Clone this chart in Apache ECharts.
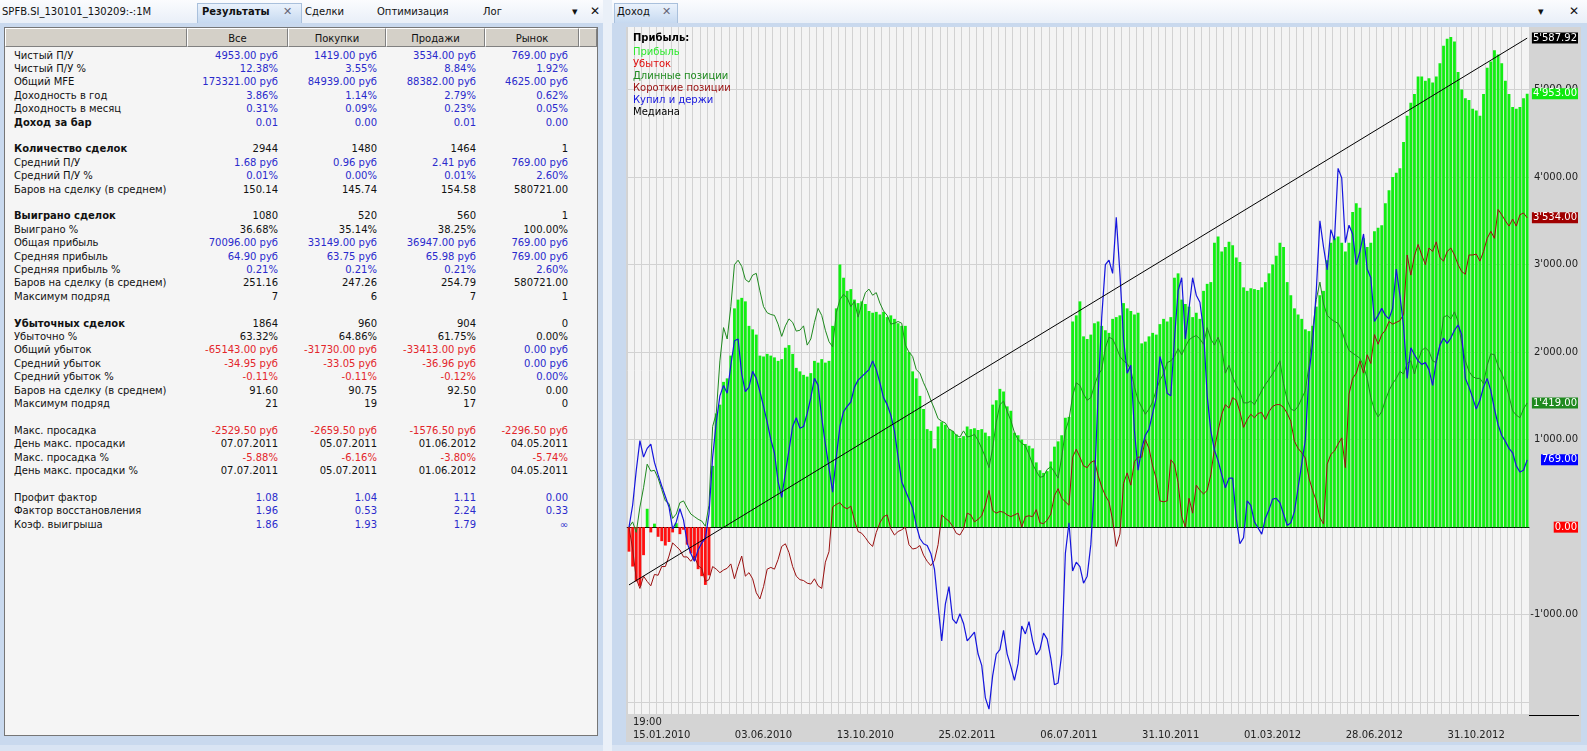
<!DOCTYPE html>
<html>
<head>
<meta charset="utf-8">
<script src="https://cdn.jsdelivr.net/npm/echarts@6.0.0/dist/echarts.min.js"></script>
<style>
  html,body{margin:0;padding:0;}
  body{width:1587px;height:751px;position:relative;overflow:hidden;background:#d9e4f3;font-family:"DejaVu Sans",sans-serif;font-size:10px;color:#111;}
  .abs{position:absolute;white-space:nowrap;}
  .bar{background:linear-gradient(#fbfcfe,#e9eff8);}
  .tab{background:linear-gradient(#eaf2fc,#c6d9f0);border:1px solid #a9c0dc;border-bottom:none;box-sizing:border-box;}
  .frame{background:#c9d9ee;}
  .hcell{position:absolute;top:28px;height:19px;line-height:19px;text-align:center;background:#d4d0c8;box-sizing:border-box;border-right:1px solid #808080;border-bottom:1px solid #808080;border-left:1px solid #ffffff;border-top:1px solid #ffffff;}
  .row{position:absolute;height:13.4px;line-height:13.4px;white-space:nowrap;}
  .val{position:absolute;width:120px;text-align:right;height:13.4px;line-height:13.4px;white-space:nowrap;}
</style>
</head>
<body>
<!-- left panel chrome -->
<div class="abs bar" style="left:0;top:0;width:603px;height:23px;"></div>
<div class="abs" style="left:2px;top:6px;">SPFB.SI_130101_130209:-:1M</div>
<div class="abs tab" style="left:197px;top:3px;width:105px;height:20px;"></div>
<div class="abs" style="left:202px;top:6px;font-weight:bold;">Результаты</div>
<div class="abs" style="left:283px;top:5px;color:#667;font-size:11px;">✕</div>
<div class="abs" style="left:305px;top:6px;">Сделки</div>
<div class="abs" style="left:377px;top:6px;">Оптимизация</div>
<div class="abs" style="left:483px;top:6px;">Лог</div>
<div class="abs" style="left:572px;top:5px;font-size:11px;">▾</div>
<div class="abs" style="left:590px;top:4px;font-size:12px;">✕</div>
<div class="abs frame" style="left:0;top:23px;width:603px;height:722px;"></div>
<div class="abs" style="left:4px;top:27px;width:594px;height:709px;background:#f5f5f5;border:1px solid #767676;box-sizing:border-box;"></div>
<div id="table"></div>

<!-- separator -->
<div class="abs" style="left:603px;top:0;width:9px;height:751px;background:#eaf0f8;"></div>

<!-- right panel chrome -->
<div class="abs bar" style="left:612px;top:0;width:975px;height:23px;"></div>
<div class="abs tab" style="left:614px;top:3px;width:64px;height:20px;"></div>
<div class="abs" style="left:617px;top:6px;">Доход</div>
<div class="abs" style="left:662px;top:5px;color:#667;font-size:11px;">✕</div>
<div class="abs" style="left:1538px;top:5px;font-size:11px;">▾</div>
<div class="abs" style="left:1569px;top:4px;font-size:12px;">✕</div>
<div class="abs frame" style="left:612px;top:23px;width:975px;height:722px;"></div>
<div id="chart" class="abs" style="left:626px;top:27px;width:955px;height:715px;background:#d4d4d4;"></div>

<script>
// ---------------- table data ----------------
const rowLabels = ['Чистый П/У','Чистый П/У %','Общий MFE','Доходность в год','Доходность в месяц','Доход за бар','','Количество сделок','Средний П/У','Средний П/У %','Баров на сделку (в среднем)','','Выиграно сделок','Выиграно %','Общая прибыль','Средняя прибыль','Средняя прибыль %','Баров на сделку (в среднем)','Максимум подряд','','Убыточных сделок','Убыточно %','Общий убыток','Средний убыток','Средний убыток %','Баров на сделку (в среднем)','Максимум подряд','','Макс. просадка','День макс. просадки','Макс. просадка %','День макс. просадки %','','Профит фактор','Фактор восстановления','Коэф. выигрыша'];
const boldRows = [5, 7, 12, 20];
const colHeaders = ['Все', 'Покупки', 'Продажи', 'Рынок'];
const colAll = ['4953.00 руб','12.38%','173321.00 руб','3.86%','0.31%','0.01','','2944','1.68 руб','0.01%','150.14','','1080','36.68%','70096.00 руб','64.90 руб','0.21%','251.16','7','','1864','63.32%','-65143.00 руб','-34.95 руб','-0.11%','91.60','21','','-2529.50 руб','07.07.2011','-5.88%','07.07.2011','','1.08','1.96','1.86'];
const colBuy = ['1419.00 руб','3.55%','84939.00 руб','1.14%','0.09%','0.00','','1480','0.96 руб','0.00%','145.74','','520','35.14%','33149.00 руб','63.75 руб','0.21%','247.26','6','','960','64.86%','-31730.00 руб','-33.05 руб','-0.11%','90.75','19','','-2659.50 руб','05.07.2011','-6.16%','05.07.2011','','1.04','0.53','1.93'];
const colSell = ['3534.00 руб','8.84%','88382.00 руб','2.79%','0.23%','0.01','','1464','2.41 руб','0.01%','154.58','','560','38.25%','36947.00 руб','65.98 руб','0.21%','254.79','7','','904','61.75%','-33413.00 руб','-36.96 руб','-0.12%','92.50','17','','-1576.50 руб','01.06.2012','-3.80%','01.06.2012','','1.11','2.24','1.79'];
const colMarket = ['769.00 руб','1.92%','4625.00 руб','0.62%','0.05%','0.00','','1','769.00 руб','2.60%','580721.00','','1','100.00%','769.00 руб','769.00 руб','2.60%','580721.00','1','','0','0.00%','0.00 руб','0.00 руб','0.00%','0.00','0','','-2296.50 руб','04.05.2011','-5.74%','04.05.2011','','0.00','0.33','∞'];
const rowColors = ['bbbb','bbbb','bbbb','bbbb','bbbb','bbbb','','kkkk','bbbb','bbbb','kkkk','','kkkk','kkkk','bbbb','bbbb','bbbb','kkkk','kkkk','','kkkk','kkkk','rrrb','rrrb','rrrb','kkkk','kkkk','','rrrr','kkkk','rrrr','kkkk','','bbbb','bbbb','bbbb'];

(function buildTable(){
  const host = document.getElementById('table');
  const colorMap = {b:'#2a2acc', r:'#e3262b', k:'#111111'};
  const hdrEdges = [5, 187, 288, 386, 485, 579, 597];
  let html = '';
  for (let c = 0; c < hdrEdges.length - 1; c++) {
    const txt = (c >= 1 && c <= 4) ? colHeaders[c - 1] : '';
    html += `<div class="hcell" style="left:${hdrEdges[c]}px;width:${hdrEdges[c+1]-hdrEdges[c]}px;">${txt}</div>`;
  }
  const rights = [278, 377, 476, 568];
  const cols = [colAll, colBuy, colSell, colMarket];
  rowLabels.forEach((lab, r) => {
    const top = 48.6 + 13.4 * r;
    const bold = boldRows.includes(r) ? 'font-weight:bold;' : '';
    html += `<div class="row" style="left:14px;top:${top}px;${bold}">${lab}</div>`;
    cols.forEach((col, c) => {
      if (!col[r]) return;
      const clr = colorMap[rowColors[r][c]];
      html += `<div class="val" style="left:${rights[c]-120}px;top:${top}px;color:${clr};">${col[r]}</div>`;
    });
  });
  host.innerHTML = html;
})();

// ---------------- chart data ----------------
const tickDates = ['15.01.2010','03.06.2010','13.10.2010','25.02.2011','06.07.2011','31.10.2011','01.03.2012','28.06.2012','31.10.2012'];
const firstTime = '19:00';
const barsPerTick = 28;
const barCount = 248;

const profit = [
-280,-450,-620,-670,-320,210,-60,40,-110,-160,
-210,-170,-60,45,-80,-30,-200,-300,-380,-480,
-560,-660,-550,700,1300,1400,1660,1700,1960,2500,
2600,2620,2580,2300,2260,2200,1960,1950,1980,1960,
1940,1900,1920,2050,2080,1980,1820,1780,1740,1720,
1760,1900,1880,1920,1880,1900,2300,2500,3000,2850,
2700,2720,2600,2560,2580,2550,2470,2450,2460,2430,
2460,2400,2420,2380,2330,2300,2300,2000,1780,1700,
1500,1350,1120,1100,900,1150,1200,1170,1120,1100,
1060,1020,1040,1150,1120,1130,1110,1120,1080,1040,
1400,1450,1580,1550,1380,1330,1080,1050,1000,950,
930,900,740,650,620,640,750,920,980,1050,
1250,1260,2350,2420,2580,2180,2150,2200,2330,2350,
2300,2250,2220,2380,2400,2420,2560,2500,2470,2430,
2450,2100,2120,2180,2220,2200,2320,2380,2350,2400,
2850,2900,2600,2550,2520,2400,2450,2380,2700,2780,
2800,3250,3320,3150,3200,3260,3220,3080,3030,2740,
2700,2730,2720,2710,2740,2800,2900,3000,3100,3250,
3200,2800,2650,2500,2430,2380,2260,2240,2300,2520,
2650,2700,3050,3250,3300,3320,3250,3150,3250,3600,
3700,3650,3300,3200,3250,3380,3420,3450,3700,3850,
4000,4050,4100,4400,4700,4850,4950,5150,5150,5100,
5130,5080,5150,5300,5500,5580,5600,5550,5200,5000,
4900,4880,4780,4760,4700,4950,5250,5320,5450,5400,
5300,5100,4950,4800,4780,4800,4900,4953];

const longPos = [
0,60,-60,230,450,720,640,650,560,430,
300,270,100,150,280,300,220,150,120,90,
70,10,250,1150,1300,1900,2280,2150,2520,3000,
3050,2980,2830,2800,2880,2900,2700,2520,2450,2430,
2420,2320,2180,2300,2380,2340,2240,2250,2300,2080,
2150,2340,2500,2420,2250,2120,2060,2450,2600,2660,
2620,2520,2580,2400,2550,2680,2720,2650,2680,2560,
2470,2420,2320,2330,2350,2330,2080,2000,1950,1800,
1760,1650,1560,1450,1350,1240,1210,1190,1120,1100,
1050,1030,1100,1030,1040,1060,990,900,800,680,
900,1200,1400,1440,1320,1220,1080,1000,960,930,
830,720,640,570,580,660,690,630,560,800,
1100,1230,1500,1650,1620,1520,1450,1480,1620,1740,
1800,2050,2170,2150,2060,1950,1900,1870,1800,1600,
1450,1370,1290,1350,1430,1570,1680,1750,1880,1900,
1950,2040,1970,2060,2140,2170,2190,2150,2090,2280,
2150,2080,2170,2050,1760,1850,1720,1620,1550,1420,
1420,1440,1400,1480,1560,1630,1690,1750,1820,1900,
1640,1450,1350,1330,1380,1470,1560,1850,2250,2600,
2800,2550,2420,2380,2350,2330,2250,2120,2020,1990,
1960,1930,1840,1700,1480,1340,1260,1320,1450,1560,
1640,1700,1780,1750,1870,1900,1750,1900,2020,2050,
2010,1900,1880,2080,2400,2420,2380,2460,2350,2100,
1900,1780,1720,1700,1700,1640,1850,1980,1970,1840,
1760,1650,1500,1330,1280,1250,1350,1419];

const shortPos = [
0,-250,-590,-700,-560,-620,-670,-540,-550,-450,
-450,-330,-180,-220,-260,-340,-340,-390,-330,-440,
-470,-620,-600,-450,-480,-520,-490,-470,-420,-590,
-450,-330,-560,-520,-590,-750,-820,-680,-480,-460,
-480,-370,-220,-190,-290,-450,-560,-600,-610,-640,
-650,-590,-670,-700,-400,-280,230,260,280,230,
210,240,80,-50,-70,-120,-180,-220,-60,50,
120,140,-20,-90,-50,-30,0,-200,-250,-240,
-210,-320,-390,-440,-380,-200,140,100,70,10,
-70,-90,-20,160,140,60,90,130,250,420,
190,160,180,170,140,120,140,160,0,120,
130,120,200,50,40,80,150,360,440,330,
290,250,800,890,800,700,680,740,760,590,
460,360,290,80,-220,-80,500,620,480,750,
800,800,1000,900,700,550,300,290,300,770,
720,510,120,0,330,160,480,420,380,420,
600,900,1100,1290,1400,1360,1480,1450,1320,1140,
1230,1290,1250,1300,1310,1230,1320,1380,1400,1400,
1370,1300,1210,980,900,850,790,560,420,300,
110,35,720,830,870,950,1020,680,1520,1700,
1760,1900,1760,1970,1870,2200,2090,2200,2250,2350,
2320,2340,2360,2430,3110,2880,3100,3230,3110,3000,
3190,3150,3260,3080,3040,3150,3190,3110,3000,2920,
2890,3110,3110,3120,3040,3150,3300,3380,3300,3630,
3570,3500,3440,3520,3440,3570,3590,3534];

const buyHold = [
0,250,650,990,800,900,950,740,600,470,
350,230,-20,60,210,80,-180,-300,-390,-260,
-180,-130,150,800,1200,1500,1620,1530,1850,2130,
2150,1750,1550,1600,1780,1700,1550,1380,1200,1000,
850,520,340,620,880,1150,1250,1130,1150,1300,
1480,1700,1620,1250,950,680,400,800,1150,1320,
1380,1430,1600,1680,1720,1760,1800,1900,1800,1650,
1480,1400,1280,1100,800,520,420,320,220,20,
-130,-190,-210,-300,-480,-900,-1300,-880,-680,-1050,
-1100,-990,-1100,-1300,-1250,-1200,-1450,-1580,-1950,-2080,
-1700,-1450,-1400,-1180,-1450,-1590,-1750,-1560,-1130,-1220,
-1080,-1300,-1460,-1400,-1210,-1280,-1500,-1800,-1780,-1450,
-300,50,-500,-400,-450,-640,-560,-200,500,1500,
2400,3000,3050,2900,3540,2900,2150,1760,1850,1100,
650,900,1050,1120,1300,1480,1950,1800,1530,1500,
2150,2700,2850,2150,2500,2850,2650,2570,2250,1500,
1100,880,760,600,450,560,560,100,-190,-120,
300,250,60,-10,-80,100,200,320,330,280,
150,20,50,180,450,720,1000,1760,2100,2700,
3500,3200,2940,3400,3280,4100,3990,3250,3450,3350,
3000,3150,3350,2950,2850,2350,2420,2500,2420,2380,
2500,2950,2650,2300,1700,2050,1970,1900,1860,1880,
1800,1620,1900,2080,2160,2100,2160,2250,2310,2200,
1700,1600,1480,1350,1450,1600,1700,1560,1350,1170,
1050,980,900,850,700,630,650,769];

const medianEnds = [-660, 5587.92];
const yLabelValues = [-1000, 0, 1000, 2000, 3000, 4000, 5000];
const yGridValues = [-2000, -1000, 0, 1000, 2000, 3000, 4000, 5000];

// ---------------- build chart ----------------
const categories = [];
for (let i = 0; i < barCount; i++) {
  categories.push(i % barsPerTick === 0 ? (tickDates[i / barsPerTick] || '') : '');
}
const last = barCount - 1;
const medianData = categories.map((_, i) => i === 0 ? medianEnds[0] : (i === last ? medianEnds[1] : null));

function fmt(v) {
  const neg = v < 0;
  const parts = Math.abs(v).toFixed(2).split('.');
  const intPart = parts[0].replace(/\B(?=(\d{3})+(?!\d))/g, "'");
  return (neg ? '-' : '') + intPart + '.' + parts[1];
}
const FONT = 'DejaVu Sans';
function tag(value, bg) {
  return {
    silent: true,
    symbol: ['none', 'none'],
    lineStyle: { color: 'rgba(0,0,0,0)', width: 0, type: 'solid' },
    label: {
      show: true, position: 'end', distance: 49, align: 'right',
      color: '#ffffff', backgroundColor: bg, padding: [1, 1, 0, 1], opacity: 1,
      fontSize: 10, fontFamily: FONT, formatter: fmt(value)
    },
    data: [{ yAxis: value }]
  };
}

const colors = {
  profit: '#12ee12', loss: '#ff1010', long: '#1f8a1f', short: '#9a1010', bh: '#1515dd', median: '#000000'
};

const chart = echarts.init(document.getElementById('chart'), null, { renderer: 'canvas' });
chart.setOption({
  animation: false,
  backgroundColor: '#d4d4d4',
  textStyle: { fontFamily: FONT },
  title: {
    text: 'Прибыль:', left: 7, top: 6, padding: 0,
    textStyle: { fontSize: 10, fontWeight: 'bold', fontFamily: FONT, color: '#000' }
  },
  legend: {
    orient: 'vertical', left: 2, top: 19, padding: 0,
    icon: 'none', itemWidth: 0, itemHeight: 12, itemGap: 0, selectedMode: false,
    textStyle: { fontSize: 10, fontFamily: FONT, lineHeight: 12 },
    data: [
      { name: 'Прибыль', textStyle: { color: '#2ee82e' } },
      { name: 'Убыток', textStyle: { color: '#e01010' } },
      { name: 'Длинные позиции', textStyle: { color: colors.long } },
      { name: 'Короткие позиции', textStyle: { color: colors.short } },
      { name: 'Купил и держи', textStyle: { color: colors.bh } },
      { name: 'Медиана', textStyle: { color: '#000' } }
    ]
  },
  grid: { left: 0, right: 52, top: 0, bottom: 27, show: true, backgroundColor: '#f4f4f4', borderWidth: 0 },
  xAxis: {
    type: 'category', data: categories, boundaryGap: true,
    axisLine: { show: true, lineStyle: { color: '#000', width: 1 } },
    axisTick: { show: false },
    axisLabel: {
      interval: barsPerTick - 1, align: 'left', margin: 2, lineHeight: 13, fontSize: 10,
      fontFamily: FONT, color: '#222', padding: [0, 0, 0, 4],
      formatter: (v, idx) => idx === 0 ? firstTime + '\n' + v : ' \n' + v
    },
    splitLine: { show: true, interval: 1, lineStyle: { color: '#d2d2d2', width: 1 } }
  },
  yAxis: {
    type: 'value', position: 'right', min: -2135, max: 5715,
    axisLine: { show: false },
    axisTick: { show: false, customValues: yGridValues },
    axisLabel: {
      customValues: yLabelValues, align: 'right', margin: 49, fontSize: 10,
      fontFamily: FONT, color: '#222', formatter: v => fmt(v)
    },
    splitLine: { show: true, lineStyle: { color: '#d2d2d2', width: 1 } }
  },
  graphic: [{
    type: 'line', silent: true,
    shape: { x1: 903, y1: 688.5, x2: 953, y2: 688.5 },
    style: { stroke: '#000', lineWidth: 1 }
  }],
  series: [
    {
      name: 'Прибыль', type: 'bar', barGap: '-100%', barCategoryGap: '22%', clip: false,
      itemStyle: { color: colors.profit },
      data: profit.map(v => v >= 0 ? v : '-'),
      markLine: tag(profit[last], '#0fe80f')
    },
    {
      name: 'Убыток', type: 'bar', barGap: '-100%', barCategoryGap: '22%', clip: false,
      itemStyle: { color: colors.loss },
      data: profit.map(v => v < 0 ? v : '-'),
      markLine: tag(Math.min(0, profit[last]), '#ff0000')
    },
    {
      name: 'Длинные позиции', type: 'line', data: longPos, showSymbol: false, clip: false,
      lineStyle: { color: colors.long, width: 1 }, itemStyle: { color: colors.long },
      markLine: tag(longPos[last], '#1f8a1f')
    },
    {
      name: 'Короткие позиции', type: 'line', data: shortPos, showSymbol: false, clip: false,
      lineStyle: { color: colors.short, width: 1 }, itemStyle: { color: colors.short },
      markLine: tag(shortPos[last], '#a00000')
    },
    {
      name: 'Купил и держи', type: 'line', data: buyHold, showSymbol: false, clip: false,
      lineStyle: { color: colors.bh, width: 1.2 }, itemStyle: { color: colors.bh },
      markLine: tag(buyHold[last], '#0000ff')
    },
    {
      name: 'Медиана', type: 'line', data: medianData, connectNulls: true, showSymbol: false, clip: false,
      lineStyle: { color: colors.median, width: 1 }, itemStyle: { color: colors.median },
      markLine: tag(medianEnds[1], '#000000')
    }
  ]
});
</script>
</body>
</html>
